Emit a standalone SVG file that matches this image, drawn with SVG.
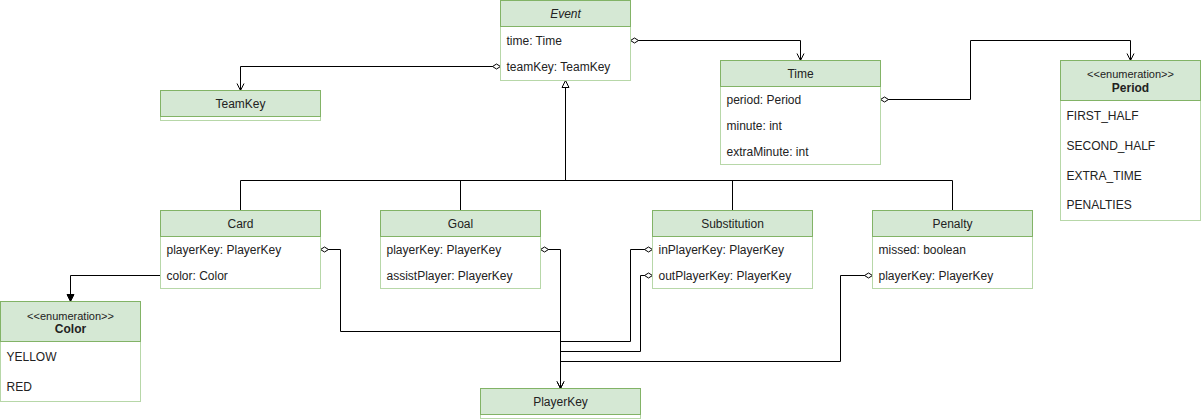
<svg xmlns="http://www.w3.org/2000/svg" width="1201" height="419" viewBox="0 0 1201 419">
<style>
text{font-family:"Liberation Sans",Arial,Helvetica,sans-serif;font-size:12px;fill:#222}
.t{text-anchor:middle}
.st{font-size:11px;text-anchor:middle}
.b{font-weight:bold;text-anchor:middle}
.hd{fill:#d5e8d4;stroke:#82b366;stroke-width:1}
.bd{fill:#ffffff;stroke:#b7d7a8;stroke-width:1}
.ln{fill:none;stroke:#000;stroke-width:1}
</style>
<defs>
<marker id="dia" markerUnits="userSpaceOnUse" viewBox="-1 -4 10 8" markerWidth="10" markerHeight="8" refX="0" refY="0" orient="auto" overflow="visible"><path d="M0,0 L4,-2.5 L8,0 L4,2.5 Z" fill="#fff" stroke="#000" stroke-width="1"/></marker>
<marker id="open" markerUnits="userSpaceOnUse" viewBox="-9 -5 10 10" markerWidth="10" markerHeight="10" refX="0" refY="0" orient="auto" overflow="visible"><path d="M-7,-3.5 L0,0 L-7,3.5" fill="none" stroke="#000" stroke-width="1"/></marker>
<marker id="block" markerUnits="userSpaceOnUse" viewBox="-9 -5 10 10" markerWidth="10" markerHeight="10" refX="0" refY="0" orient="auto" overflow="visible"><path d="M0,0 L-7,-3.5 L-7,3.5 Z" fill="#000" stroke="#000" stroke-width="1"/></marker>
<marker id="tri" markerUnits="userSpaceOnUse" viewBox="-9 -5 10 10" markerWidth="10" markerHeight="10" refX="0" refY="0" orient="auto" overflow="visible"><path d="M0,0 L-7,-3.5 L-7,3.5 Z" fill="#fff" stroke="#000" stroke-width="1"/></marker>
</defs>
<rect x="0" y="0" width="1201" height="419" fill="#ffffff"/>
<g transform="translate(0.5,0.5)">
<g id="connectors">
<path class="ln" d="M500,66 H240 V90" marker-start="url(#dia)" marker-end="url(#open)"/>
<path class="ln" d="M630,40 H800 V60" marker-start="url(#dia)" marker-end="url(#open)"/>
<path class="ln" d="M880,99 H970 V40 H1130 V60" marker-start="url(#dia)" marker-end="url(#open)"/>
<path class="ln" d="M240,210 V180 H952 V210"/>
<path class="ln" d="M460,210 V180"/>
<path class="ln" d="M732,210 V180"/>
<path class="ln" d="M565,180 V80" marker-end="url(#tri)"/>
<path class="ln" d="M160,275 H70 V301" marker-end="url(#block)"/>
<path class="ln" d="M320,249 H340 V331 H560 V388" marker-start="url(#dia)" marker-end="url(#open)"/>
<path class="ln" d="M540,249 H560 V388" marker-start="url(#dia)" marker-end="url(#open)"/>
<path class="ln" d="M652,249 H630 V341 H560 V388" marker-start="url(#dia)"/>
<path class="ln" d="M652,275 H640 V351 H560 V388" marker-start="url(#dia)"/>
<path class="ln" d="M872,275 H840 V361 H560 V388" marker-start="url(#dia)"/>
</g>
<g id="Event">
<rect class="bd" x="500" y="26" width="130" height="54"/>
<rect class="hd" x="500" y="0" width="130" height="26"/>
<text class="t" x="565" y="17" font-style="italic">Event</text>
<text x="506" y="44">time: Time</text>
<text x="506" y="70">teamKey: TeamKey</text>
</g>
<g id="TeamKey">
<rect class="bd" x="160" y="116" width="160" height="4"/>
<rect class="hd" x="160" y="90" width="160" height="26"/>
<text class="t" x="240" y="107">TeamKey</text>
</g>
<g id="Time">
<rect class="bd" x="720" y="86" width="160" height="78"/>
<rect class="hd" x="720" y="60" width="160" height="26"/>
<text class="t" x="800" y="77">Time</text>
<text x="726" y="103">period: Period</text>
<text x="726" y="129">minute: int</text>
<text x="726" y="155">extraMinute: int</text>
</g>
<g id="Period">
<rect class="bd" x="1060" y="100" width="140" height="120"/>
<rect class="hd" x="1060" y="60" width="140" height="40"/>
<text class="st" x="1130" y="77">&lt;&lt;enumeration&gt;&gt;</text>
<text class="b" x="1130" y="91">Period</text>
<text x="1066" y="119">FIRST_HALF</text>
<text x="1066" y="149">SECOND_HALF</text>
<text x="1066" y="179">EXTRA_TIME</text>
<text x="1066" y="208">PENALTIES</text>
</g>
<g id="Card">
<rect class="bd" x="160" y="236" width="160" height="52"/>
<rect class="hd" x="160" y="210" width="160" height="26"/>
<text class="t" x="240" y="227">Card</text>
<text x="166" y="253">playerKey: PlayerKey</text>
<text x="166" y="279">color: Color</text>
</g>
<g id="Goal">
<rect class="bd" x="380" y="236" width="160" height="52"/>
<rect class="hd" x="380" y="210" width="160" height="26"/>
<text class="t" x="460" y="227">Goal</text>
<text x="386" y="253">playerKey: PlayerKey</text>
<text x="386" y="279">assistPlayer: PlayerKey</text>
</g>
<g id="Substitution">
<rect class="bd" x="652" y="236" width="160" height="52"/>
<rect class="hd" x="652" y="210" width="160" height="26"/>
<text class="t" x="732" y="227">Substitution</text>
<text x="658" y="253">inPlayerKey: PlayerKey</text>
<text x="658" y="279">outPlayerKey: PlayerKey</text>
</g>
<g id="Penalty">
<rect class="bd" x="872" y="236" width="160" height="52"/>
<rect class="hd" x="872" y="210" width="160" height="26"/>
<text class="t" x="952" y="227">Penalty</text>
<text x="878" y="253">missed: boolean</text>
<text x="878" y="279">playerKey: PlayerKey</text>
</g>
<g id="Color">
<rect class="bd" x="0" y="341" width="140" height="60"/>
<rect class="hd" x="0" y="301" width="140" height="40"/>
<text class="st" x="70" y="319">&lt;&lt;enumeration&gt;&gt;</text>
<text class="b" x="70" y="332">Color</text>
<text x="6" y="360">YELLOW</text>
<text x="6" y="390">RED</text>
</g>
<g id="PlayerKey">
<rect class="bd" x="480" y="414" width="160" height="4"/>
<rect class="hd" x="480" y="388" width="160" height="26"/>
<text class="t" x="560" y="405">PlayerKey</text>
</g>
</g>
</svg>
